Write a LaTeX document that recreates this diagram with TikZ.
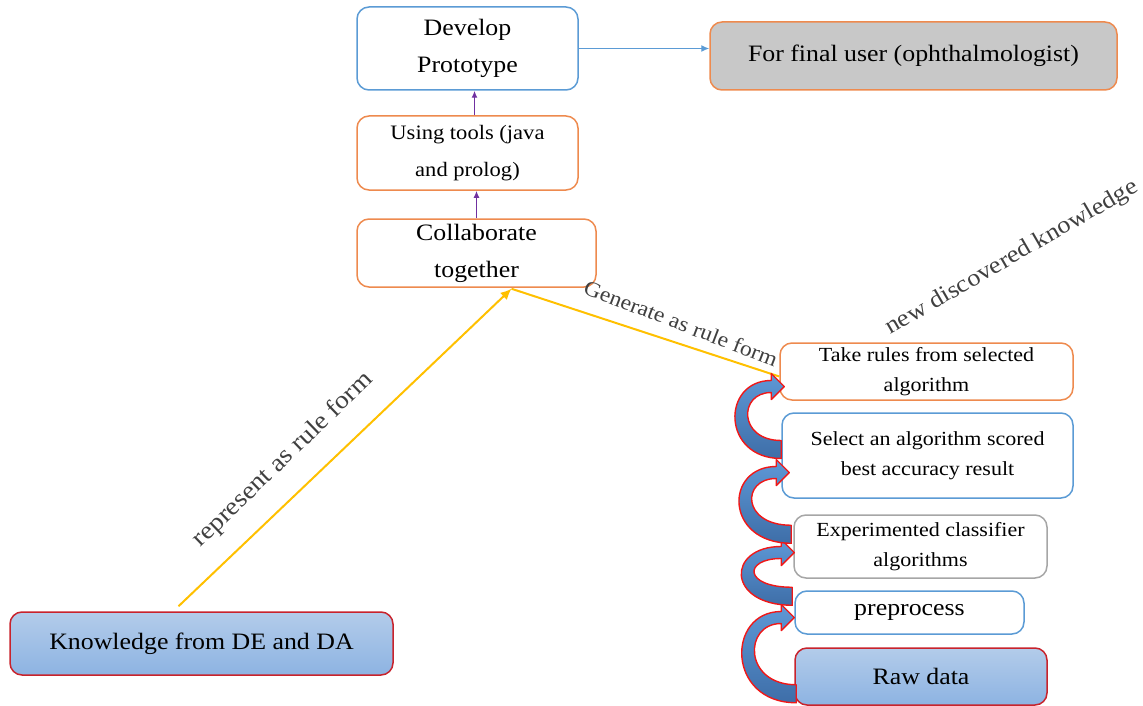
\documentclass[tikz,border=0pt]{standalone}
\usepackage{fontspec}
\setmainfont{Liberation Serif}[FakeStretch=1.1]
\usetikzlibrary{arrows.meta,calc}

\definecolor{bordblue}{HTML}{5B9BD5}
\definecolor{bordorange}{HTML}{EE8A4E}
\definecolor{bordgray}{HTML}{A6A6A6}
\definecolor{bordred}{HTML}{C8232C}
\definecolor{greyfill}{HTML}{C8C8C8}
\definecolor{skytop}{HTML}{B3CCEA}
\definecolor{skybot}{HTML}{8DB3E2}
\definecolor{linkyellow}{HTML}{FFC000}
\definecolor{linkpurple}{HTML}{7030A0}
\definecolor{labelgray}{HTML}{404040}
\definecolor{bendtop}{HTML}{5E98D6}
\definecolor{bendbot}{HTML}{3E6EA8}
\definecolor{bendred}{HTML}{F01818}

% curved block arrow: #1 tail point, #2 head tip, #3 bulge to the left of the tip
\newcommand\bentarrow[3]{%
  \shadedraw[bent] let \p1=(#1), \p2=(#2) in
    (\x1,\y1-9pt)
    .. controls (\x2-#3pt,\y1-9pt) and (\x2-#3pt,\y2+6pt) .. (\x2-13pt,\y2+6pt)
    -- (\x2-13pt,\y2+13pt) -- (\x2,\y2) -- (\x2-13pt,\y2-13pt) -- (\x2-13pt,\y2-6pt)
    .. controls (\x2-#3pt+17pt,\y2-6pt) and (\x2-#3pt+17pt,\y1+9pt) .. (\x1,\y1+9pt)
    -- cycle;}

\tikzset{
  box/.style={rounded corners=12pt, line width=1.5pt, fill=white, align=center,
    inner sep=0pt, text=black},
  big/.style={font=\fontsize{23.5}{37}\selectfont},
  small/.style={font=\fontsize{20}{29.5}\selectfont},
  skybox/.style={box, draw=bordred, top color=skytop, bottom color=skybot},
  label/.style={text=labelgray, inner sep=0pt},
  yellowlink/.style={draw=linkyellow, line width=2pt},
  purplelink/.style={draw=linkpurple, line width=1.3pt, -{Latex[length=7pt,width=6pt]}},
  bluelink/.style={draw=bordblue, line width=1.3pt, -{Latex[length=8pt,width=7pt]}},
  bent/.style={draw=bendred, line width=1.4pt, top color=bendtop, bottom color=bendbot,
    line join=round},
}

\begin{document}
\begin{tikzpicture}[x=1pt,y=-1pt]
\useasboundingbox (0,0) rectangle (1143,706);

% left column
\node[box, big, draw=bordblue, minimum width=221pt, minimum height=83pt]
  (dev) at (467.5,48.5) {Develop\\Prototype};
\node[box, big, draw=bordorange, fill=greyfill, minimum width=407pt, minimum height=68pt]
  (final) at (913.5,56) {For final user (ophthalmologist)};
\node[box, font=\fontsize{20.5}{37}\selectfont, draw=bordorange, minimum width=221pt, minimum height=74pt]
  (tools) at (467.5,153) {Using tools (java\\and prolog)};
\node[box, big, draw=bordorange, minimum width=239pt, minimum height=68pt]
  (collab) at (476.5,253) {Collaborate\\together};
\node[skybox, big, minimum width=383pt, minimum height=63pt]
  (know) at (201.5,643.5) {Knowledge from DE and DA};

% right column
\node[box, small, draw=bordorange, minimum width=293pt, minimum height=57pt]
  (take) at (926.5,371.5) {Take rules from selected\\algorithm};
\node[box, small, draw=bordblue, minimum width=291pt, minimum height=85pt]
  (sel) at (927.5,455.5) {Select an algorithm scored\\best accuracy result};
\node[box, small, draw=bordgray, minimum width=253pt, minimum height=63pt]
  (exp) at (920.5,546.5) {Experimented classifier\\algorithms};
\node[box, big, draw=bordblue, minimum width=229pt, minimum height=43pt]
  (pre) at (909.5,612.5) {preprocess};
\node[skybox, big, minimum width=252pt, minimum height=57pt]
  (raw) at (921,676.5) {Raw data};

% straight connectors
\draw[bluelink] (dev.east) -- (dev.east -| final.west);
\draw[purplelink] ([xshift=7pt]tools.north) -- ([xshift=7pt]dev.south);
\draw[purplelink] (collab.north) -- (collab.north |- tools.south);

\coordinate (meet) at ([xshift=35pt,yshift=-1pt]collab.south);
\draw[yellowlink] ([yshift=-5pt]take.west) -- (meet);
\draw[yellowlink, -{Latex[length=11pt,width=10pt]}] ([xshift=-23pt,yshift=5pt]know.north) -- (meet);

% connector labels
\node[label, rotate=44, font=\fontsize{25}{30}\selectfont] (lrep) at (283,460) {represent as rule form};
\node[label, rotate=-21, font=\fontsize{21.5}{26}\selectfont] (lgen) at (681,323) {Generate as rule form};
\node[label, rotate=30, font=\fontsize{24}{28}\selectfont] (lnew) at (1012,258) {new discovered knowledge};

% curved block arrows between the processing steps
\coordinate (a1t) at ($(raw.south west)+(2,-12)$);
\coordinate (a1h) at ($(pre.west)+(0,5)$);
\coordinate (a2t) at ($(pre.north west)+(-2,6)$);
\coordinate (a2h) at ($(exp.west)+(1,6)$);
\coordinate (a3t) at ($(exp.north west)+(-2,20)$);
\coordinate (a3h) at ($(sel.west)+(8,17)$);
\coordinate (a4t) at ($(sel.west)+(0,-6)$);
\coordinate (a4h) at ($(take.west)+(5,15)$);
\bentarrow{a1t}{a1h}{68}
\bentarrow{a2t}{a2h}{68}
\bentarrow{a3t}{a3h}{65}
\bentarrow{a4t}{a4h}{63}
\end{tikzpicture}
\end{document}
